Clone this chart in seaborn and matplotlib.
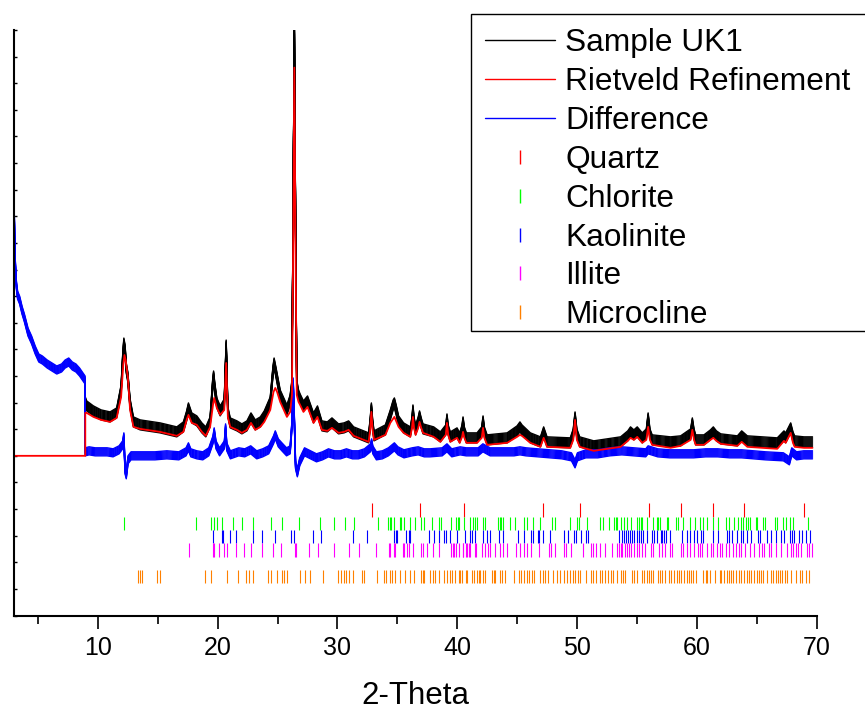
import numpy as np
import pandas as pd
import matplotlib
matplotlib.use("Agg")
import matplotlib.pyplot as plt
import matplotlib.patheffects as pe
from matplotlib.lines import Line2D
from matplotlib.patches import Rectangle
from matplotlib.ticker import MultipleLocator
import seaborn as sns

sns.set_style("ticks")
plt.rcParams['font.family'] = ['Liberation Sans', 'DejaVu Sans']
plt.rcParams.update({"text.color": "black", "axes.labelcolor": "black",
                     "xtick.color": "black", "ytick.color": "black"})

# ---------------- data (2-Theta, intensity in counts) ----------------
obs_x = [8.95, 9.07, 9.63, 10.27, 11.02, 11.57, 11.94, 12.07, 12.17, 12.27, 12.37, 12.5, 12.69, 12.97, 13.53,
         15.19, 16.59, 17.14, 17.41, 17.56, 17.84, 18.26, 18.68, 19.01, 19.37, 19.58, 19.66, 19.76, 19.93, 20.21,
         20.55, 20.64, 20.71, 20.78, 20.85, 21.05, 21.61, 22.02, 22.44, 22.78, 23.14, 23.56, 23.89, 24.39, 24.61,
         24.71, 24.86, 25.06, 25.22, 25.78, 26.05, 26.2, 26.3, 26.4, 26.5, 26.6, 26.75, 26.88, 27.16, 27.5, 28.0,
         28.33, 28.7, 29.15, 29.54, 30.09, 30.55, 30.93, 31.35, 31.76, 32.6, 32.73, 32.83, 32.93, 33.05, 34.0,
         34.41, 34.65, 34.75, 34.9, 35.1, 35.52, 36.08, 36.22, 36.3, 36.39, 36.52, 36.74, 36.85, 36.99, 37.14,
         38.03, 38.59, 39.04, 39.14, 39.24, 39.42, 39.98, 40.2, 40.4, 40.48, 40.59, 40.76, 41.65, 42.04, 42.15,
         42.26, 42.49, 44.16, 44.99, 45.23, 45.4, 46.1, 46.94, 47.21, 47.49, 49.43, 49.68, 49.83, 49.98, 50.22,
         51.39, 53.63, 54.23, 54.46, 54.74, 55.02, 55.44, 55.78, 55.93, 56.08, 56.27, 57.8, 58.64, 59.48, 59.62,
         59.76, 59.9, 60.59, 61.13, 61.37, 61.63, 61.99, 63.38, 63.74, 64.21, 66.71, 67.27, 67.41, 67.83, 68.02,
         68.16, 68.94, 69.65]
obs_y = [810, 750, 675, 615, 585, 645, 990, 1440, 1695, 1590, 1320, 1185, 780, 510, 465,
         420, 360, 435, 600, 720, 570, 525, 420, 360, 510, 1065, 1200, 1020, 795, 675,
         780, 1290, 1665, 1140, 660, 495, 450, 405, 450, 570, 465, 510, 600, 810, 1260,
         1395, 1260, 1065, 915, 690, 840, 1065, 3840, 6420, 3540, 1065, 915, 855, 750, 825, 570,
         675, 450, 435, 495, 405, 420, 450, 360, 330, 270, 480, 720, 480, 300, 390,
         615, 765, 795, 690, 525, 420, 360, 510, 690, 510, 390, 510, 600, 495, 405,
         360, 285, 390, 555, 390, 285, 345, 270, 390, 510, 360, 270, 270, 360, 525,
         360, 240, 270, 375, 435, 390, 270, 210, 360, 210, 195, 330, 585, 330, 210,
         150, 210, 300, 360, 315, 360, 270, 330, 570, 330, 240, 210, 225, 330, 495,
         330, 240, 240, 315, 360, 300, 255, 225, 300, 225, 195, 300, 270, 420, 285,
         225, 210, 210]

calc_x = [3.0, 8.95, 8.95, 9.07, 9.63, 10.27, 11.02, 11.57, 11.94, 12.12, 12.22, 12.32, 12.5, 12.69, 12.97,
          13.53, 15.19, 16.59, 17.14, 17.41, 17.56, 17.84, 18.26, 18.68, 19.01, 19.37, 19.61, 19.71, 19.93,
          20.21, 20.55, 20.64, 20.71, 20.78, 20.85, 21.05, 21.61, 22.02, 22.44, 22.78, 23.14, 23.56, 23.89,
          24.39, 24.66, 24.81, 24.96, 25.22, 25.78, 26.05, 26.2, 26.3, 26.4, 26.5, 26.6, 26.75, 26.88, 27.16,
          27.5, 28.0, 28.33, 28.7, 29.15, 29.54, 30.09, 30.55, 30.93, 31.35, 31.76, 32.6, 32.73, 32.83, 32.93,
          33.05, 34.0, 34.41, 34.75, 35.1, 35.52, 36.08, 36.22, 36.3, 36.39, 36.52, 36.74, 36.85, 36.99, 37.14,
          38.03, 38.59, 39.04, 39.14, 39.24, 39.42, 39.98, 40.2, 40.4, 40.48, 40.59, 40.76, 41.65, 42.04, 42.15,
          42.26, 42.49, 44.16, 44.99, 45.23, 45.4, 46.1, 46.94, 47.21, 47.49, 49.43, 49.68, 49.83, 49.98, 50.22,
          51.39, 53.63, 54.23, 54.46, 54.74, 55.02, 55.44, 55.78, 55.93, 56.08, 56.27, 57.8, 58.64, 59.48,
          59.62, 59.76, 59.9, 60.59, 61.13, 61.37, 61.63, 61.99, 63.38, 63.74, 64.21, 66.71, 67.27, 67.41,
          67.83, 68.02, 68.16, 68.94, 69.65]
calc_y = [0, 0, 645, 645, 585, 540, 510, 570, 885, 1365,
          1515, 1440, 1185, 690, 435, 405, 360, 300, 360, 540,
          615, 495, 465, 360, 300, 435, 765, 870, 720, 615,
          690, 1065, 1395, 990, 585, 435, 390, 345, 390, 495,
          390, 435, 510, 690, 960, 1020, 960, 810, 585, 660,
          915, 3090, 5835, 3090, 915, 810, 765, 660, 735, 495,
          585, 390, 375, 420, 345, 360, 390, 300, 270, 210,
          390, 660, 390, 240, 315, 495, 585, 435, 345, 285,
          420, 585, 420, 315, 420, 510, 420, 345, 285, 210,
          315, 495, 315, 210, 270, 195, 285, 360, 270, 195,
          195, 270, 420, 270, 165, 195, 285, 315, 300, 195,
          135, 270, 135, 120, 240, 540, 240, 135, 75, 135,
          225, 270, 240, 285, 195, 240, 435, 240, 165, 120,
          150, 240, 390, 240, 165, 165, 240, 270, 225, 180,
          150, 210, 135, 105, 225, 195, 345, 195, 135, 120,
          120]

diff_x = [3.0, 3.05, 3.1, 3.2, 3.3, 3.47, 3.67, 3.87, 4.17, 4.47, 4.77, 5.07, 5.37, 5.77, 6.17, 6.57, 6.97,
          7.27, 7.57, 7.87, 8.17, 8.47, 8.93,
          8.95, 9.27, 9.77, 10.27, 10.77, 11.27, 11.77, 12.07, 12.17, 12.27, 12.37, 12.52, 12.77,
          13.77, 14.77, 15.76, 16.76, 17.36, 17.56, 17.76, 18.26, 18.76, 19.26,
          19.61, 19.71, 19.86, 20.16, 20.56, 20.66, 20.76, 21.06,
          21.76, 22.26, 22.76, 23.26, 23.76, 24.26, 24.66, 24.81, 25.06, 25.36, 25.75, 26.05,
          26.2, 26.3, 26.4, 26.5, 26.65, 26.85,
          27.25, 27.75, 28.25, 28.75, 29.25, 29.75, 30.25, 30.75, 31.25, 31.75, 32.25,
          32.75, 32.85, 32.95, 33.25, 33.75, 34.25, 34.75, 35.05, 35.55,
          36.24, 36.74, 37.24, 37.74, 38.74, 39.14, 39.54, 40.24, 40.74, 41.74, 42.14, 42.74, 43.74, 44.74,
          45.23, 45.73, 46.73, 47.73, 48.73, 49.53, 49.83, 50.03, 50.73, 51.73, 52.73, 53.73, 54.73, 55.73, 55.93,
          56.73, 57.73, 58.73, 59.73, 60.73, 61.73, 62.73, 63.73, 64.72, 65.72, 67.22, 67.72, 67.92, 68.32,
          68.92, 69.65]
diff_y = [3840, 3315, 2910, 2565, 2415, 2340, 2190, 2070, 1860, 1740, 1590, 1470, 1440, 1380, 1335, 1290, 1320,
          1380, 1410, 1350, 1320, 1260, 1140,
          60, 75, 60, 60, 60, 45, 90, 165, 285, -210, -285, -60, 0,
          0, 0, 15, 0, 60, 135, 45, 15, 0, 60,
          240, 360, 165, 60, 165, 420, 135, 15,
          60, 45, 90, 15, 45, 90, 240, 315, 195, 135, 60, 90,
          465, 1110, 540, -135, -255, -90,
          60, 15, -30, 0, 45, 15, 15, 45, 15, 15, 45,
          120, 195, 90, 0, 15, 60, 135, 75, 30,
          60, 75, 45, 45, 60, 120, 45, 75, 60, 60, 120, 60, 60, 60,
          75, 60, 45, 30, 15, -15, -120, -15, 30, 30, 60, 75, 60, 45, 90,
          45, 30, 30, 30, 45, 45, 30, 30, 15, 0, -15, -75, 60, 0,
          15, 15]

quartz = [32.88, 36.86, 40.54, 47.17, 50.23, 55.99, 58.70, 61.34, 63.93, 68.94]
chlorite = [12.14, 18.23, 19.48, 19.73, 19.98, 20.40, 21.32, 21.99, 22.99, 24.42, 25.38, 26.78, 28.54, 29.71,
            30.65, 31.40, 33.35, 34.19, 34.35, 34.47, 34.69, 35.18, 35.30, 35.52, 36.08, 36.49, 36.97, 37.19,
            37.89, 38.44, 38.64, 39.48, 39.90, 40.03, 40.17, 40.59, 41.03, 41.28, 41.51, 41.65, 42.15, 42.29,
            43.41, 43.54, 43.66, 43.83, 44.38, 44.85, 45.60, 45.82, 46.33, 46.94, 47.91, 48.13, 49.39, 50.00,
            50.20, 50.84, 51.90, 52.18, 52.65, 53.07, 53.21, 53.35, 53.63, 53.91, 54.19, 54.46, 55.02, 55.16,
            55.30, 55.44, 55.86, 56.30, 56.64, 56.78, 56.91, 57.47, 57.58, 58.28, 58.42, 58.84, 59.43, 59.84,
            60.26, 60.54, 60.87, 61.34, 61.79, 62.40, 62.68, 63.10, 63.46, 63.65, 63.88, 64.08, 64.27, 64.44,
            64.90, 64.99, 65.55, 65.66, 66.49, 66.66, 67.22, 67.41, 67.77, 68.05, 69.28]
kaolinite = [19.65, 20.35, 20.44, 20.99, 21.52, 22.94, 23.72, 24.81, 26.11, 26.39, 27.95, 28.65, 31.30, 32.47,
             34.75, 34.86, 34.98, 35.68, 35.93, 36.08, 37.61, 38.09, 38.50, 38.92, 39.06, 39.42, 39.98, 40.67,
             41.03, 41.23, 41.51, 42.15, 42.49, 42.71, 43.46, 43.83, 45.05, 45.54, 46.16, 46.33, 46.71, 46.83,
             47.16, 47.71, 48.94, 49.25, 49.78, 49.95, 50.34, 50.78, 50.89, 53.52, 53.73, 53.91, 54.07, 54.24,
             54.40, 54.60, 54.79, 55.02, 55.19, 55.35, 55.52, 55.80, 56.27, 56.41, 56.63, 56.97, 57.11, 57.25,
             57.39, 57.75, 58.79, 59.14, 59.43, 59.76, 59.98, 60.37, 60.54, 61.37, 61.76, 62.49, 62.68, 62.96,
             63.38, 63.71, 63.88, 64.21, 64.54, 65.09, 65.26, 65.82, 66.21, 66.57, 67.05, 67.27, 67.77, 67.97,
             68.11, 68.53, 68.81, 69.08, 69.44]
illite = [17.62, 19.60, 19.71, 20.07, 20.49, 20.82, 21.52, 22.22, 22.78, 23.70, 24.64, 25.30, 26.47, 26.55,
          27.62, 28.34, 29.67, 30.93, 31.76, 33.19, 34.27, 34.36, 34.69, 34.83, 35.47, 35.57, 35.80, 35.93,
          36.30, 36.97, 37.14, 37.47, 37.94, 38.44, 39.48, 39.65, 39.76, 39.92, 40.12, 40.45, 40.76, 40.95,
          41.60, 40.48, 40.81, 41.03, 41.51, 42.07, 42.34, 42.54, 42.77, 43.18, 43.60, 43.83, 44.16, 44.93,
          45.21, 45.60, 45.82, 46.16, 46.80, 47.63, 47.83, 48.19, 48.94, 49.11, 49.50, 50.51, 51.12, 51.34,
          51.62, 51.95, 52.29, 52.93, 53.35, 53.48, 53.63, 53.79, 53.96, 54.13, 54.32, 54.52, 54.74, 54.96,
          55.16, 55.44, 55.63, 56.19, 56.36, 56.83, 57.05, 57.30, 57.75, 57.94, 58.64, 58.87, 59.20, 59.43,
          59.76, 60.10, 60.26, 60.46, 60.82, 61.21, 61.37, 61.65, 61.93, 62.13, 62.40, 62.68, 63.05, 63.24,
          63.52, 63.71, 63.99, 64.44, 64.76, 65.18, 65.46, 65.60, 66.02, 66.21, 66.57, 67.05, 67.55, 67.83,
          68.05, 68.25, 68.44, 68.72, 69.22, 69.36, 69.64]
microcline = [13.39, 13.53, 13.72, 14.92, 15.19, 18.98, 19.46, 20.82, 21.66, 22.36, 22.61, 22.99, 24.20, 24.45,
              24.94, 25.36, 25.55, 25.80, 26.89, 27.25, 27.73, 28.79, 30.05, 30.29, 30.57, 30.68, 30.99, 31.30,
              32.05, 32.18, 33.27, 33.91, 34.02, 34.41, 34.56, 34.83, 35.24, 35.66, 36.08, 36.35, 36.97, 37.11,
              37.25, 37.75, 37.94, 38.17, 38.44, 38.86, 39.14, 39.42, 39.56, 39.84, 40.12, 40.26, 40.40, 40.76,
              40.81, 41.23, 41.37, 41.65, 41.79, 41.93, 42.15, 42.34, 42.91, 43.04, 43.18, 43.54, 43.74, 44.02,
              44.71, 45.12, 45.32, 45.54, 45.82, 45.96, 46.24, 46.43, 46.94, 47.16, 47.35, 47.55, 48.00, 48.33,
              48.55, 48.89, 49.17, 49.45, 49.67, 49.86, 50.06, 50.22, 50.78, 51.12, 51.34, 51.62, 51.90, 52.09,
              52.37, 52.56, 52.79, 53.01, 53.35, 53.63, 53.85, 53.96, 54.60, 54.74, 55.02, 55.44, 55.58, 55.80,
              55.99, 56.19, 56.36, 56.74, 56.91, 57.11, 57.30, 57.66, 57.86, 58.08, 58.36, 58.50, 58.70, 58.92,
              59.14, 59.34, 59.48, 59.70, 59.90, 60.54, 60.73, 60.87, 61.09, 61.48, 61.93, 62.04, 62.26, 62.49,
              62.68, 62.88, 63.05, 63.24, 63.52, 63.71, 63.93, 64.16, 64.35, 64.55, 64.76, 64.99, 65.18, 65.38,
              65.55, 65.82, 66.21, 66.38, 66.57, 66.76, 66.93, 67.13, 67.32, 67.55, 67.88, 68.25, 68.61, 68.81,
              69.08, 69.36]

series_labels = ["Sample UK1", "Rietveld Refinement", "Difference"]
phase_labels = ["Quartz", "Chlorite", "Kaolinite", "Illite", "Microcline"]

# ---------------- figure ----------------
W, H = 865, 713
fig = plt.figure(figsize=(W / 100, H / 100), dpi=100)
ax = fig.add_axes([14 / W, (H - 615.5) / H, (816.7 - 14) / W, (615.5 - 30) / H])

obs_df = pd.DataFrame({"two_theta": obs_x, "counts": obs_y})
calc_df = pd.DataFrame({"two_theta": calc_x, "counts": calc_y})
diff_df = pd.DataFrame({"two_theta": diff_x, "counts": diff_y})

black_band = [pe.Stroke(offset=(0, d), linewidth=1.0, foreground="black")
              for d in np.linspace(-3.6, 3.6, 11)]
blue_band = [pe.Stroke(offset=(0, d), linewidth=1.0, foreground="#0000ff")
             for d in np.linspace(-2.9, 2.9, 9)]

sns.lineplot(data=obs_df, x="two_theta", y="counts", estimator=None, sort=False,
             color="black", lw=1.0, ax=ax, path_effects=black_band)
sns.lineplot(data=diff_df, x="two_theta", y="counts", estimator=None, sort=False,
             color="#0000ff", lw=1.0, ax=ax, path_effects=blue_band)
sns.lineplot(data=calc_df, x="two_theta", y="counts", estimator=None, sort=False,
             color="#ff0000", lw=1.3, ax=ax)

phase_colors = ["#ff0000", "#00ff00", "#0000ff", "#ff00ff", "#ff8000"]
phase_rows = [(-705, -915), (-915, -1110), (-1110, -1305), (-1305, -1515), (-1710, -1905)]
for pos, col, (y0, y1) in zip([quartz, chlorite, kaolinite, illite, microcline], phase_colors, phase_rows):
    ax.vlines(pos, y1, y0, colors=col, lw=0.8)

ax.set_xlim(3, 70)
ax.set_ylim(-2400, 6400)
for s in ["top", "right"]:
    ax.spines[s].set_visible(False)
for s in ["left", "bottom"]:
    ax.spines[s].set_linewidth(1.5)
    ax.spines[s].set_color("black")

ax.xaxis.set_major_locator(MultipleLocator(10))
ax.xaxis.set_minor_locator(MultipleLocator(5))
ax.tick_params(axis="x", which="major", direction="out", length=9, width=1.2, labelsize=18, pad=6,
               colors="black")
ax.tick_params(axis="x", which="minor", direction="out", length=5.4, width=1.2, colors="black")
ax.yaxis.set_major_locator(MultipleLocator(400))
ax.tick_params(axis="y", which="major", direction="in", length=2.5, width=1, labelleft=False, colors="black")
ax.set_xlabel("2-Theta", fontsize=22.5, labelpad=15, color="black")
ax.set_ylabel("")

# legend box (frame drawn as a figure rectangle so its height matches the reference)
fig.patches.append(Rectangle((471 / W, 1 - 331 / H), (W + 5 - 471) / W, (331 - 14) / H,
                             transform=fig.transFigure, facecolor="white", edgecolor="black",
                             lw=1.0, zorder=3))

handles = [Line2D([], [], color="black", lw=1.0),
           Line2D([], [], color="#ff0000", lw=1.0),
           Line2D([], [], color="#0000ff", lw=1.0)]
handles += [Line2D([], [], color=c, marker="|", markersize=10, markeredgewidth=1.0, linestyle="None")
            for c in phase_colors]
leg = fig.legend(handles, series_labels + phase_labels, loc="upper left",
                 bbox_to_anchor=(471 / W, 1 - 14 / H), bbox_transform=fig.transFigure,
                 fontsize=22.8, frameon=False,
                 borderaxespad=0, borderpad=0.45, handlelength=2.2, handletextpad=0.32,
                 labelspacing=0.28)
leg.set_zorder(5)
for t in leg.get_texts():
    t.set_color("black")

fig.savefig("out.png", dpi=100)
